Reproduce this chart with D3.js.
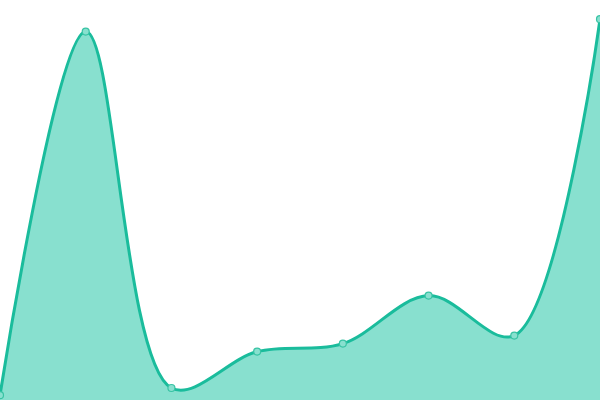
<!DOCTYPE html>
<html lang="en">
<head>
    <meta charset="UTF-8">
    <title>Area</title>
    <script src="https://d3js.org/d3.v7.min.js"></script>
    <style>
        body { margin: 0; background: #fff; }
    </style>
</head>
<body>
    <div id="plot"></div>
    <script>
        "use strict";

        // data (y domain 0..100)
        let labels = ['A', 'B', 'C', 'D', 'E', 'F', 'G', 'H'];
        let values = [1.2, 92.1, 3.0, 12.1, 14.1, 26.1, 16.1, 95.2];

        let svgWidth = 600;
        let svgHeight = 400;

        let data = labels.map((d, i) => ({name: d, value: values[i]}));

        let x = d3.scalePoint()
            .domain(labels)
            .range([0, svgWidth]);
        let y = d3.scaleLinear()
            .domain([0, 100])
            .range([svgHeight, 0]);

        let svg = d3.select('#plot')
            .append('svg')
            .attr('width', svgWidth)
            .attr('height', svgHeight);

        let curve = d3.curveCatmullRom.alpha(0.5);

        let area = d3.area()
            .x(d => x(d.name))
            .y0(svgHeight)
            .y1(d => y(d.value))
            .curve(curve);

        let line = d3.line()
            .x(d => x(d.name))
            .y(d => y(d.value))
            .curve(curve);

        svg.append('path')
            .datum(data)
            .attr('d', area)
            .style('fill', '#88e0cf');

        svg.append('path')
            .datum(data)
            .attr('d', line)
            .style('fill', 'none')
            .style('stroke', '#1abc9c')
            .style('stroke-width', 3);

        svg.selectAll('circle')
            .data(data)
            .enter()
            .append('circle')
            .attr('cx', d => x(d.name))
            .attr('cy', d => y(d.value))
            .attr('r', 3.5)
            .style('fill', '#88e0cf')
            .style('stroke', '#38c3a4')
            .style('stroke-width', 1.2);
    </script>
</body>
</html>
